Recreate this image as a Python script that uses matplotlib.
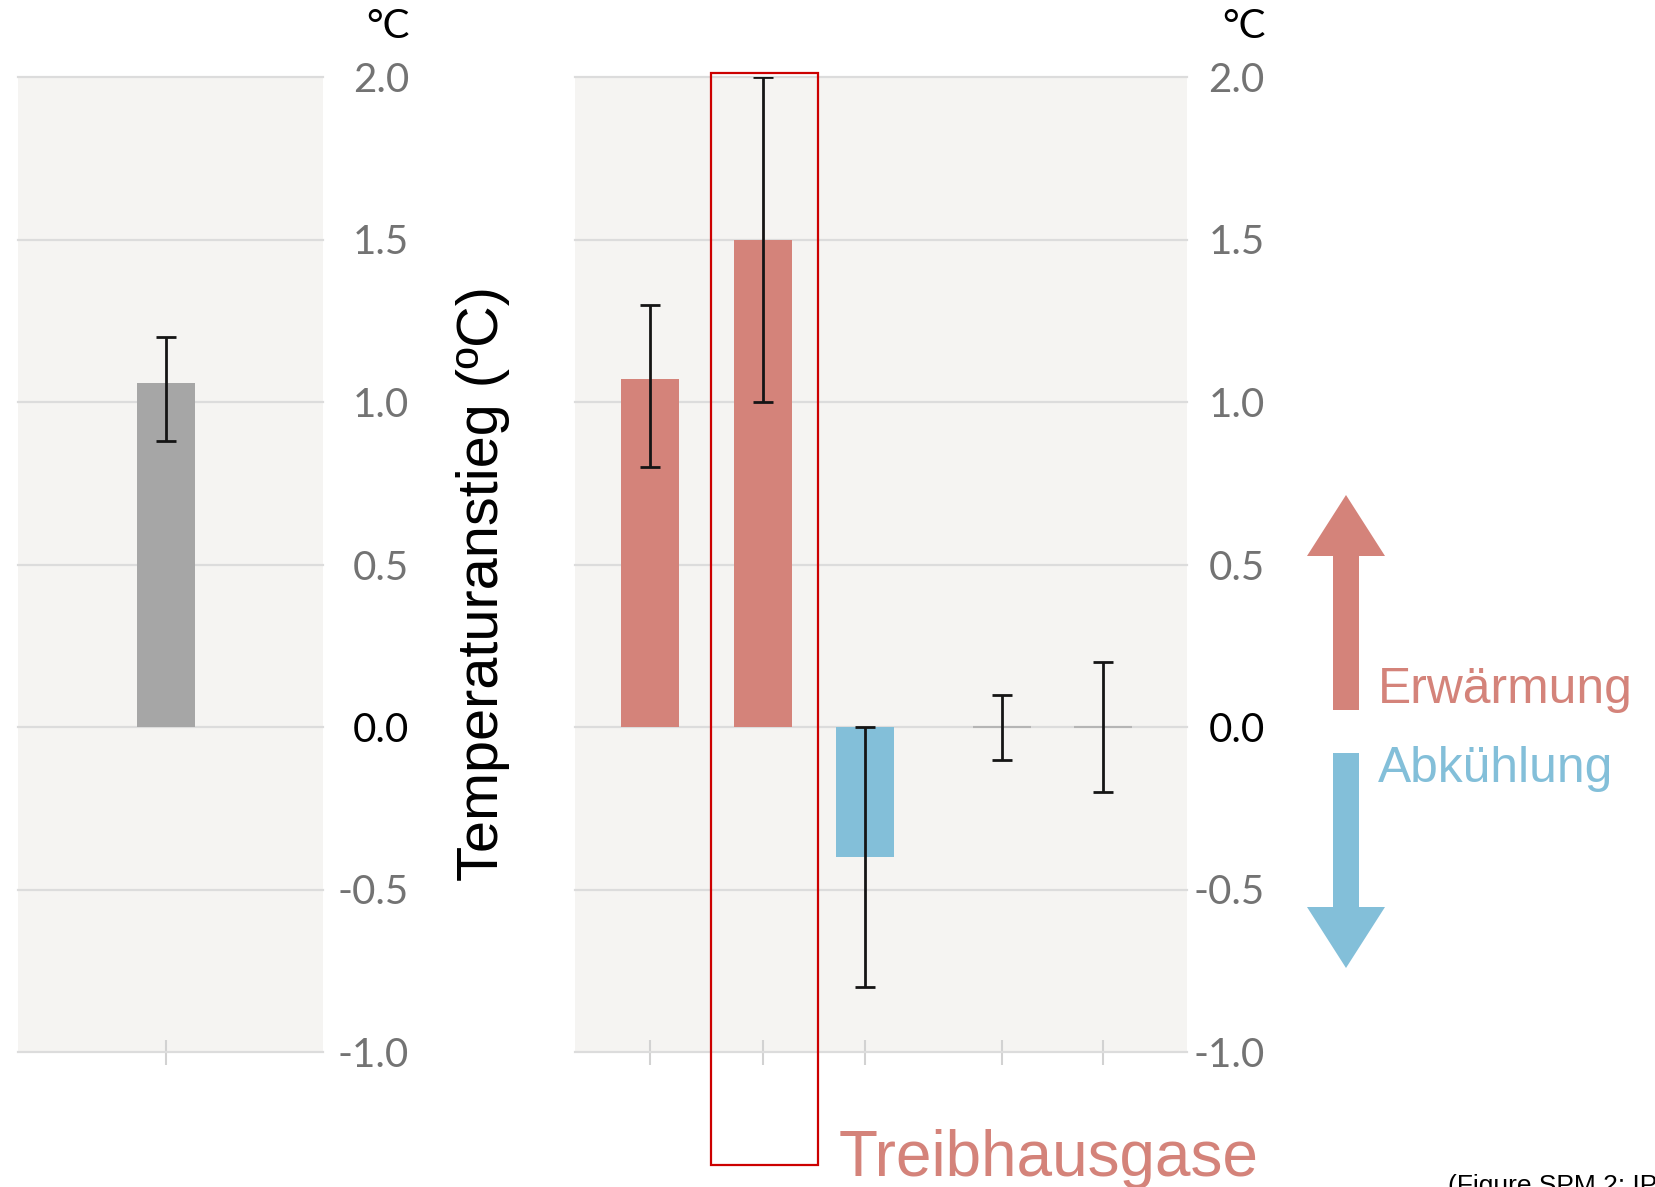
import matplotlib.pyplot as plt
from matplotlib.patches import FancyArrow, Rectangle

# observed warming (left panel)
obs_val = [1.06]
obs_low = [0.88]
obs_high = [1.20]

# contributions (right panel)
contrib_val = [1.07, 1.50, -0.40, 0.0, 0.0]
contrib_low = [0.80, 1.00, -0.80, -0.10, -0.20]
contrib_high = [1.30, 2.00, 0.00, 0.10, 0.20]

yticks = [-1.0, -0.5, 0.0, 0.5, 1.0, 1.5, 2.0]
ytick_labels = ["-1.0", "-0.5", "0.0", "0.5", "1.0", "1.5", "2.0"]

RED = "#d4837a"
BLUE = "#83bfd9"
GREY = "#a6a6a6"
W, H = 1655, 1187

fig = plt.figure(figsize=(W / 100, H / 100), dpi=100)


def px(x0, y0, x1, y1):
    # pixel box (top-left origin) -> figure fraction rect
    return [x0 / W, (H - y1) / H, (x1 - x0) / W, (y1 - y0) / H]


def style(ax, xlim, pad):
    ax.set_facecolor("#f5f4f2")
    ax.set_xlim(*xlim)
    ax.set_ylim(-1.0, 2.0)
    for s in ax.spines.values():
        s.set_visible(False)
    ax.set_axisbelow(True)
    ax.yaxis.grid(True, color="#dcdcdc", lw=1.6)
    ax.yaxis.tick_right()
    ax.set_yticks(yticks)
    ax.set_yticklabels(ytick_labels, fontfamily="Lato", fontsize=29, color="#737373")
    for lab in ax.get_yticklabels():
        lab.set_horizontalalignment("right")
        if lab.get_text() == "0.0":
            lab.set_color("black")
    ax.tick_params(axis="y", length=0, pad=pad)
    ax.tick_params(axis="x", direction="inout", length=18, width=1.5,
                   color="#d2d2d2", labelbottom=False)
    for gl in ax.get_ygridlines():
        gl.set_clip_on(False)


err_kw = dict(ecolor="#151515", elinewidth=2.0, capsize=7, capthick=2.0)

# left panel
ax1 = fig.add_axes(px(18, 77, 323, 1052))
style(ax1, (0, 3), 62)
pos_l = [1.46]
ax1.bar(pos_l, obs_val, width=0.57, color=GREY, zorder=2)
ax1.errorbar(pos_l, obs_val,
             yerr=[[v - l for v, l in zip(obs_val, obs_low)],
                   [h - v for v, h in zip(obs_val, obs_high)]],
             fmt="none", zorder=3, **err_kw)
ax1.set_xticks(pos_l)

# right panel
ax2 = fig.add_axes(px(575, 77, 1187, 1052))
style(ax2, (0, 6), 56)
pos_r = [0.735, 1.843, 2.843, 4.186, 5.176]
colors = [RED, RED, BLUE, "none", "none"]
edges = ["none", "none", "none", "#b5b5b5", "#b5b5b5"]
ax2.bar(pos_r, contrib_val, width=0.57, color=colors, edgecolor=edges,
        linewidth=1.5, zorder=2)
ax2.errorbar(pos_r, contrib_val,
             yerr=[[v - l for v, l in zip(contrib_val, contrib_low)],
                   [h - v for v, h in zip(contrib_val, contrib_high)]],
             fmt="none", zorder=3, **err_kw)
ax2.set_xticks(pos_r)

# degree labels
fig.text(410 / W, 1 - 27 / H, "°C", ha="right", va="center",
         fontfamily="Lato", fontsize=29, color="black")
fig.text(1266 / W, 1 - 27 / H, "°C", ha="right", va="center",
         fontfamily="Lato", fontsize=29, color="black")

# vertical axis title
fig.text(483 / W, 1 - 584 / H, "Temperaturanstieg (ºC)", rotation=90,
         ha="center", va="center", fontfamily="Liberation Sans",
         fontsize=41.5, color="black")

# highlight box
fig.add_artist(Rectangle((711 / 100, (H - 1165) / 100), 107 / 100, 1092 / 100,
                         transform=fig.dpi_scale_trans, fill=False,
                         edgecolor="#cc0000", lw=1.6))

fig.text(839 / W, 1 - 1176 / H, "Treibhausgase", ha="left", va="baseline",
         fontfamily="Liberation Sans", fontsize=46, color=RED)

# warming / cooling arrows
fig.add_artist(FancyArrow(1346 / 100, (H - 710) / 100, 0, 2.15, width=0.26,
                          head_width=0.78, head_length=0.61,
                          length_includes_head=True, color=RED, lw=0,
                          transform=fig.dpi_scale_trans))
fig.add_artist(FancyArrow(1346 / 100, (H - 753) / 100, 0, -2.15, width=0.26,
                          head_width=0.78, head_length=0.61,
                          length_includes_head=True, color=BLUE, lw=0,
                          transform=fig.dpi_scale_trans))
fig.text(1378 / W, 1 - 703 / H, "Erwärmung", ha="left", va="baseline",
         fontfamily="Liberation Sans", fontsize=35.8, color=RED)
fig.text(1378 / W, 1 - 782 / H, "Abkühlung", ha="left", va="baseline",
         fontfamily="Liberation Sans", fontsize=35.8, color=BLUE)

# source note, cropped by the bottom edge as in the original
fig.text(1448 / W, 1 - 1174 / H, "(Figure SPM 2: IPCC AR5)", ha="left", va="top",
         fontfamily="Liberation Sans", fontsize=19, color="black")

fig.savefig("out.png", dpi=100)
